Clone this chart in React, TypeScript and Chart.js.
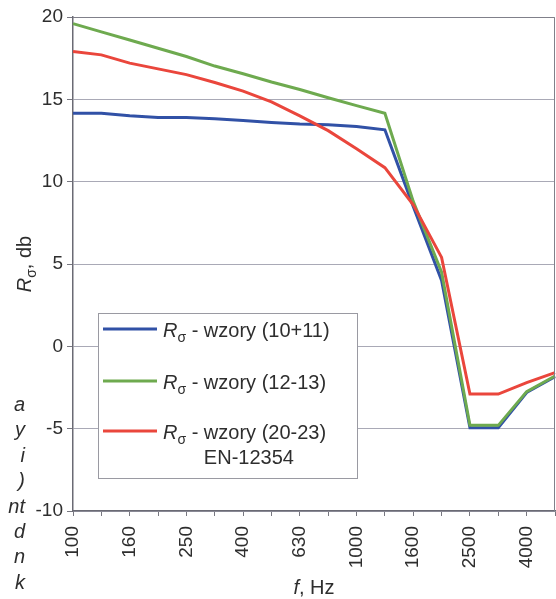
import React, { useEffect, useRef } from "react";
import { Chart, registerables } from "chart.js";

Chart.register(...registerables);

// ---- data ----
const frequencies = ["100", "125", "160", "200", "250", "315", "400", "500", "630", "800", "1000", "1250", "1600", "2000", "2500", "3150", "4000", "5000"];
const shownTickLabels = ["100", "160", "250", "400", "630", "1000", "1600", "2500", "4000"];

const blueValues = [14.15, 14.15, 14.0, 13.9, 13.9, 13.82, 13.72, 13.6, 13.5, 13.45, 13.35, 13.15, 8.5, 4.0, -4.95, -4.95, -2.8, -1.85];
const greenValues = [19.6, 19.1, 18.6, 18.1, 17.6, 17.02, 16.55, 16.05, 15.6, 15.1, 14.62, 14.15, 8.8, 4.5, -4.8, -4.8, -2.75, -1.8];
const redValues = [17.9, 17.7, 17.2, 16.85, 16.5, 16.02, 15.5, 14.85, 14.0, 13.1, 12.0, 10.85, 8.6, 5.4, -2.9, -2.9, -2.2, -1.6];

const seriesLabels = ["wzory (10+11)", "wzory (12-13)", "wzory (20-23)"];
const seriesSecondLines = ["", "", "EN-12354"];
const seriesColors = ["#3151a6", "#6eaa4f", "#ea463c"];

const yTickValues = [-10, -5, 0, 5, 10, 15, 20];
const sideFragments = ["a", "y", "i", ")", "nt", "d", "n", "k"];

const FONT = "'Liberation Sans', Arial, sans-serif";
const TEXT = "#2e2e2e";

function drawRich(ctx: CanvasRenderingContext2D, parts: { text: string; font: string; dy?: number }[], x: number, y: number) {
  let cx = x;
  for (const p of parts) {
    ctx.font = p.font;
    ctx.fillText(p.text, cx, y + (p.dy || 0));
    cx += ctx.measureText(p.text).width;
  }
  return cx;
}

function richWidth(ctx: CanvasRenderingContext2D, parts: { text: string; font: string }[]) {
  let w = 0;
  for (const p of parts) {
    ctx.font = p.font;
    w += ctx.measureText(p.text).width;
  }
  return w;
}

const decorPlugin = {
  id: "decor",
  beforeDraw(chart: any) {
    const { ctx, width, height } = chart;
    ctx.save();
    ctx.fillStyle = "#ffffff";
    ctx.fillRect(0, 0, width, height);
    ctx.restore();
  },
  afterDraw(chart: any) {
    const { ctx, chartArea } = chart;
    const { left, right, top, bottom } = chartArea;
    ctx.save();
    // plot border top & right
    ctx.strokeStyle = "#80808a";
    ctx.lineWidth = 1;
    ctx.beginPath();
    ctx.moveTo(left, top + 0.5);
    ctx.lineTo(right - 0.5, top + 0.5);
    ctx.lineTo(right - 0.5, bottom);
    ctx.stroke();

    // legend
    const bx = 98, by = 313, bw = 259, bh = 165;
    ctx.fillStyle = "#ffffff";
    ctx.fillRect(bx, by, bw, bh);
    ctx.strokeStyle = "#9a9aa2";
    ctx.lineWidth = 1;
    ctx.strokeRect(bx + 0.5, by + 0.5, bw, bh);
    const rowY = [329, 381, 431];
    chart.data.datasets.forEach((ds: any, i: number) => {
      const y = rowY[i];
      ctx.strokeStyle = ds.borderColor;
      ctx.lineWidth = 3;
      ctx.beginPath();
      ctx.moveTo(103, y);
      ctx.lineTo(157, y);
      ctx.stroke();
      ctx.fillStyle = TEXT;
      ctx.textBaseline = "alphabetic";
      ctx.textAlign = "left";
      const endR = drawRich(
        ctx,
        [
          { text: "R", font: `italic 20px ${FONT}` },
          { text: "σ", font: `14px ${FONT}`, dy: 5 },
          { text: " - ", font: `20px ${FONT}` },
        ],
        163,
        y + 7.5
      );
      ctx.font = `20px ${FONT}`;
      ctx.fillText(seriesLabels[i], endR, y + 7.5);
      if (seriesSecondLines[i]) {
        ctx.fillText(seriesSecondLines[i], endR, y + 7.5 + 25.5);
      }
    });

    // x title
    ctx.fillStyle = TEXT;
    const xParts = [
      { text: "f", font: `italic 20px ${FONT}` },
      { text: ", Hz", font: `20px ${FONT}` },
    ];
    const xw = richWidth(ctx, xParts);
    drawRich(ctx, xParts, (left + right) / 2 - xw / 2, 594);

    // y title
    const yParts = [
      { text: "R", font: `italic 20px ${FONT}` },
      { text: "σ", font: `14px ${FONT}`, dy: 5 },
      { text: ", db", font: `20px ${FONT}` },
    ];
    const yw = richWidth(ctx, yParts);
    ctx.translate(31, (top + bottom) / 2);
    ctx.rotate(-Math.PI / 2);
    drawRich(ctx, yParts, -yw / 2, 0);
    ctx.restore();
  },
};

export default function App() {
  const canvasRef = useRef<HTMLCanvasElement | null>(null);

  useEffect(() => {
    const canvas = canvasRef.current;
    if (!canvas) return;
    const makeDs = (label: string, data: number[], color: string, order: number) => ({
      label,
      data,
      borderColor: color,
      backgroundColor: color,
      borderWidth: 3,
      pointRadius: 0,
      tension: 0,
      fill: false,
      order,
    });
    const chart = new Chart(canvas, {
      type: "line",
      data: {
        labels: frequencies,
        datasets: [
          makeDs("Rσ - " + seriesLabels[0], blueValues, seriesColors[0], 2),
          makeDs("Rσ - " + seriesLabels[1], greenValues, seriesColors[1], 1),
          makeDs("Rσ - " + seriesLabels[2] + " " + seriesSecondLines[2], redValues, seriesColors[2], 0),
        ],
      },
      options: {
        animation: false,
        responsive: false,
        devicePixelRatio: 1,
        layout: { padding: { top: 17, right: 1, left: 0, bottom: 0 } },
        plugins: {
          legend: { display: false },
          tooltip: { enabled: false },
          title: { display: false },
        },
        scales: {
          x: {
            type: "category",
            offset: false,
            grid: {
              drawOnChartArea: false,
              drawTicks: true,
              tickLength: 5,
              tickColor: "#777780",
              color: "#777780",
            },
            border: { display: true, color: "#6a6a74", width: 1.5 },
            ticks: {
              autoSkip: false,
              maxRotation: 90,
              minRotation: 90,
              padding: 10,
              color: TEXT,
              font: { family: FONT, size: 19 },
              callback: function (_v: any, idx: number) {
                const lab = frequencies[idx];
                return shownTickLabels.includes(lab) ? lab : "";
              },
            },
            afterFit: (scale: any) => {
              scale.height = 88;
              scale.paddingLeft = 0;
              scale.paddingRight = 0;
            },
          },
          y: {
            min: -10,
            max: 20,
            afterBuildTicks: (scale: any) => {
              scale.ticks = yTickValues.map((v) => ({ value: v }));
            },
            grid: {
              color: "#a9a9b6",
              lineWidth: 1,
              drawTicks: true,
              tickLength: 6,
              tickColor: "#777780",
            },
            border: { display: true, color: "#6a6a74", width: 1.5 },
            ticks: {
              padding: 4,
              color: TEXT,
              font: { family: FONT, size: 19 },
            },
            afterFit: (scale: any) => {
              scale.width = 73;
              scale.paddingTop = 0;
              scale.paddingBottom = 0;
            },
          },
        },
      },
      plugins: [decorPlugin],
    } as any);
    return () => chart.destroy();
  }, []);

  return (
    <div style={{ position: "fixed", left: 0, top: 0, width: 556, height: 599, background: "#fff", overflow: "hidden" }}>
      <canvas ref={canvasRef} width={556} height={599} style={{ display: "block", width: 556, height: 599 }} />
      <div
        style={{
          position: "absolute",
          left: 0,
          top: 392,
          width: 25,
          textAlign: "right",
          fontFamily: FONT,
          fontStyle: "italic",
          fontSize: 20,
          lineHeight: "25.4px",
          color: TEXT,
          whiteSpace: "nowrap",
        }}
      >
        {sideFragments.map((t, i) => (
          <div key={i}>{t}</div>
        ))}
      </div>
    </div>
  );
}
